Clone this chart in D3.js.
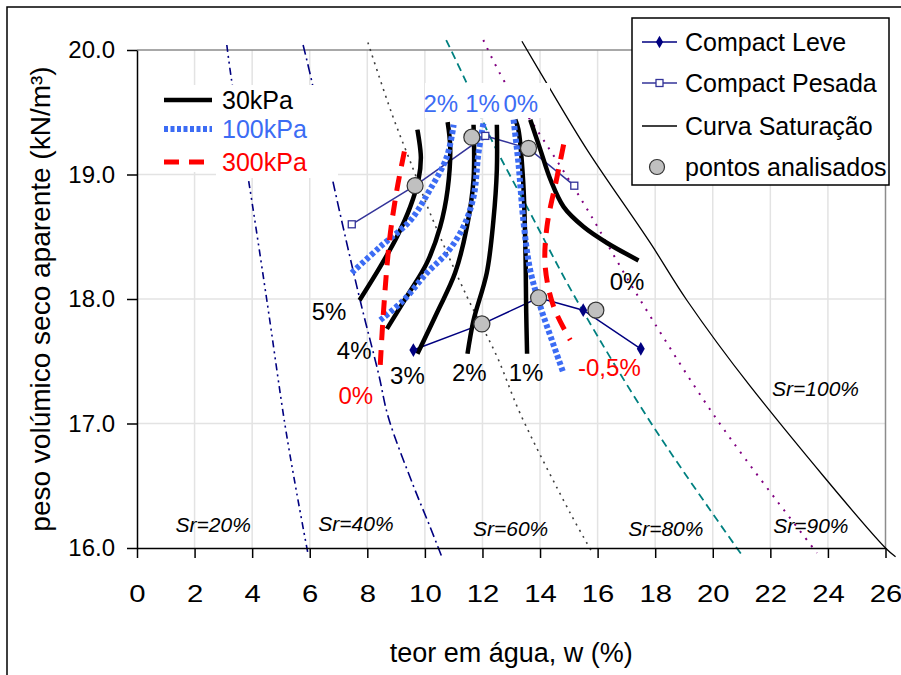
<!DOCTYPE html>
<html>
<head>
<meta charset="utf-8">
<script src="https://cdn.jsdelivr.net/npm/d3@7"></script>
<style>
  body { margin: 0; background: #fff; }
  text { font-family: Arial, "Liberation Sans", sans-serif; }
</style>
</head>
<body>
<div id="chart"></div>
<script>
// teor em agua w (%) vs peso volumico seco (kN/m3)

var xTicks = [0, 2, 4, 6, 8, 10, 12, 14, 16, 18, 20, 22, 24, 26];
var yTicks = [16, 17, 18, 19, 20];

// linhas de saturacao
var sr20 = [[3.12, 20.04], [3.29, 19.75], [3.87, 18.96], [4.51, 17.99], [5.14, 16.99], [5.55, 16.44], [5.95, 15.94]];
var sr40 = [[5.77, 20.04], [6.07, 19.75], [6.79, 18.96], [7.75, 17.99], [8.39, 17.40], [8.73, 17.05], [9.6, 16.5], [10.18, 16.17], [10.57, 15.94]];
var sr60 = [[8.02, 20.06], [8.85, 19.49], [9.6, 19.04], [10.18, 18.69], [11.46, 18.02], [12.5, 17.54], [13.31, 17.08], [15.05, 16.28], [15.8, 15.97]];
var sr80 = [[10.74, 20.08], [11.4, 19.76], [12.27, 19.30], [13.66, 18.69], [15.3, 17.98], [17.95, 16.97], [21.02, 15.94]];
var sr90 = [[12.03, 20.08], [12.73, 19.76], [13.66, 19.44], [15.51, 18.77], [17.25, 18.08], [20.15, 17.03], [23.62, 15.96]];
var sr100 = [[13.37, 20.07], [14.24, 19.73], [15.63, 19.2], [17.83, 18.45], [19.1, 17.99], [21.3, 17.30], [26.0, 16.0], [26.35, 15.93]];

var compactLeve = [[9.6, 17.59], [12.0, 17.8], [13.95, 18.01], [15.5, 17.91], [17.5, 17.6]];
var compactPesada = [[7.46, 18.6], [9.66, 18.91], [12.1, 19.31], [13.6, 19.21], [15.19, 18.91]];
var pontos = [[9.66, 18.91], [11.63, 19.3], [13.6, 19.21], [11.98, 17.80], [13.95, 18.01], [15.94, 17.91]];

// curvas de igual variacao de volume
var kpa30 = [
  [[7.73, 17.99], [8.45, 18.26], [9.03, 18.50], [9.49, 18.74], [9.78, 18.96], [9.86, 19.14], [9.74, 19.36]],
  [[8.68, 17.76], [9.37, 18.02], [10.07, 18.29], [10.53, 18.58], [10.79, 18.88], [10.88, 19.22], [10.79, 19.42]],
  [[9.74, 17.56], [10.42, 17.89], [11.05, 18.21], [11.46, 18.58], [11.69, 18.96], [11.69, 19.40]],
  [[11.48, 17.56], [11.69, 17.83], [12.15, 18.21], [12.38, 18.63], [12.5, 19.04], [12.5, 19.40]],
  [[13.55, 17.56], [13.52, 17.89], [13.49, 18.42], [13.41, 18.96], [13.25, 19.36], [13.14, 19.44]],
  [[13.66, 19.44], [14.01, 19.2], [14.36, 18.96], [14.82, 18.74], [15.51, 18.58], [16.33, 18.45], [17.42, 18.31]]
];
var kpa100 = [
  [[7.46, 18.21], [8.45, 18.42], [9.49, 18.63], [10.18, 18.88], [10.76, 19.14], [11.0, 19.40]],
  [[8.45, 17.83], [9.26, 17.99], [10.07, 18.21], [10.76, 18.37], [11.34, 18.58], [11.69, 18.82], [11.86, 19.17], [12.04, 19.42]],
  [[13.08, 19.44], [13.25, 19.09], [13.43, 18.61], [13.66, 18.23], [14.01, 17.94], [14.41, 17.67], [14.82, 17.40]]
];
var kpa300 = [
  [[8.45, 17.47], [8.56, 17.89], [8.77, 18.47], [9.03, 18.88], [9.32, 19.22]],
  [[14.82, 19.24], [14.59, 18.98], [14.24, 18.58], [14.18, 18.26], [14.47, 17.94], [15.05, 17.67]]
];

var curveLabels = [
  {t: "5%", w: 6.07, g: 17.83, c: "#000"},
  {t: "4%", w: 6.94, g: 17.52, c: "#000"},
  {t: "3%", w: 8.79, g: 17.32, c: "#000"},
  {t: "2%", w: 10.94, g: 17.34, c: "#000"},
  {t: "1%", w: 12.91, g: 17.34, c: "#000"},
  {t: "0%", w: 16.42, g: 18.07, c: "#000"},
  {t: "0%", w: 7.0, g: 17.16, c: "#ff0000"},
  {t: "-0,5%", w: 15.32, g: 17.38, c: "#ff0000"}
];
var blueLabels = [
  {t: "2%", w: 9.95, g: 19.5},
  {t: "1%", w: 11.4, g: 19.5},
  {t: "0%", w: 12.73, g: 19.5}
];
var srLabels = [
  {t: "Sr=20%", w: 1.34, g: 16.13},
  {t: "Sr=40%", w: 6.3, g: 16.14},
  {t: "Sr=60%", w: 11.67, g: 16.10},
  {t: "Sr=80%", w: 17.06, g: 16.10},
  {t: "Sr=90%", w: 22.1, g: 16.12},
  {t: "Sr=100%", w: 22.06, g: 17.22}
];

var width = 901, height = 675;
var pLeft = 137, pRight = 885.5, pTop = 50, pBottom = 548;

var svg = d3.select("#chart").append("svg")
    .attr("width", width)
    .attr("height", height);

// moldura exterior
svg.append("rect")
    .attr("x", 7).attr("y", 7)
    .attr("width", 1000).attr("height", 1000)
    .attr("fill", "#fff")
    .attr("stroke", "#000")
    .attr("stroke-width", 1.5);

var x = d3.scaleLinear().domain([0, 26]).range([pLeft, pRight]);
var y = d3.scaleLinear().domain([16, 20]).range([pBottom, pTop]);

var line = d3.line()
    .x(function(d) { return x(d[0]); })
    .y(function(d) { return y(d[1]); });
var smooth = d3.line()
    .x(function(d) { return x(d[0]); })
    .y(function(d) { return y(d[1]); })
    .curve(d3.curveCatmullRom.alpha(0.5));

// grelha
svg.append("g").selectAll("line")
    .data(xTicks.slice(1, -1))
    .enter().append("line")
    .attr("x1", function(d) { return x(d); })
    .attr("x2", function(d) { return x(d); })
    .attr("y1", pTop).attr("y2", pBottom)
    .attr("stroke", "#e3e3e3").attr("stroke-width", 1.5);
svg.append("g").selectAll("line")
    .data(yTicks.slice(1, -1))
    .enter().append("line")
    .attr("x1", pLeft).attr("x2", pRight)
    .attr("y1", function(d) { return y(d); })
    .attr("y2", function(d) { return y(d); })
    .attr("stroke", "#e3e3e3").attr("stroke-width", 1.5);
svg.append("path")
    .attr("d", "M" + pLeft + "," + pTop + "H" + pRight + "V" + pBottom)
    .attr("fill", "none")
    .attr("stroke", "#8c8c8c").attr("stroke-width", 1.5);

// linhas Sr
var srLines = [
  {d: sr20, c: "#000080", w: 1.6, dash: "7,4,2,4,2,4"},
  {d: sr40, c: "#000080", w: 1.6, dash: "10,4,2,4"},
  {d: sr60, c: "#404040", w: 1.6, dash: "2,5"},
  {d: sr80, c: "#008080", w: 1.8, dash: "8,5"},
  {d: sr90, c: "#800080", w: 2, dash: "2,7"},
  {d: sr100, c: "#000", w: 1.3, dash: null}
];
svg.append("g").selectAll("path")
    .data(srLines)
    .enter().append("path")
    .attr("d", function(d) { return smooth(d.d); })
    .attr("fill", "none")
    .attr("stroke", function(d) { return d.c; })
    .attr("stroke-width", function(d) { return d.w; })
    .attr("stroke-dasharray", function(d) { return d.dash; });

// caixas brancas das legendas de texto
svg.append("rect").attr("x", 150).attr("y", 85).attr("width", 66).attr("height", 87).attr("fill", "#fff");
svg.append("rect").attr("x", 216).attr("y", 85).attr("width", 122).attr("height", 93).attr("fill", "#fff");
svg.append("rect").attr("x", 425).attr("y", 83).attr("width", 125).attr("height", 35).attr("fill", "#fff");

svg.selectAll(".srlab")
    .data(srLabels)
    .enter().append("text")
    .attr("class", "srlab")
    .attr("x", function(d) { return x(d.w); })
    .attr("y", function(d) { return y(d.g); })
    .attr("font-size", 21)
    .attr("font-style", "italic")
    .text(function(d) { return d.t; });

// curvas de compactacao
svg.append("path")
    .attr("d", line(compactLeve))
    .attr("fill", "none").attr("stroke", "#000080").attr("stroke-width", 1.5);
svg.append("path")
    .attr("d", line(compactPesada))
    .attr("fill", "none").attr("stroke", "#333399").attr("stroke-width", 1.5);

// 30 kPa
svg.append("g").selectAll("path")
    .data(kpa30)
    .enter().append("path")
    .attr("d", smooth)
    .attr("fill", "none").attr("stroke", "#000").attr("stroke-width", 4.5);

// 100 kPa
svg.append("g").selectAll("path")
    .data(kpa100)
    .enter().append("path")
    .attr("d", smooth)
    .attr("fill", "none").attr("stroke", "#3c6cf4").attr("stroke-width", 6)
    .attr("stroke-dasharray", "4,2.5");

// 300 kPa
svg.append("g").selectAll("path")
    .data(kpa300)
    .enter().append("path")
    .attr("d", smooth)
    .attr("fill", "none").attr("stroke", "#ff0000").attr("stroke-width", 5)
    .attr("stroke-dasharray", "15,10");

svg.selectAll(".leve")
    .data(compactLeve)
    .enter().append("path")
    .attr("class", "leve")
    .attr("transform", function(d) { return "translate(" + x(d[0]) + "," + y(d[1]) + ")"; })
    .attr("d", d3.symbol().type(d3.symbolDiamond).size(55))
    .attr("fill", "#000080");
svg.selectAll(".pesada")
    .data(compactPesada)
    .enter().append("rect")
    .attr("class", "pesada")
    .attr("x", function(d) { return x(d[0]) - 3.5; })
    .attr("y", function(d) { return y(d[1]) - 3.5; })
    .attr("width", 7).attr("height", 7)
    .attr("fill", "#fff").attr("stroke", "#333399").attr("stroke-width", 1.3);

svg.selectAll(".ponto")
    .data(pontos)
    .enter().append("circle")
    .attr("class", "ponto")
    .attr("cx", function(d) { return x(d[0]); })
    .attr("cy", function(d) { return y(d[1]); })
    .attr("r", 8)
    .attr("fill", "#c0c0c0").attr("stroke", "#333").attr("stroke-width", 1.2);

// rotulos das curvas
svg.selectAll(".clab")
    .data(curveLabels)
    .enter().append("text")
    .attr("class", "clab")
    .attr("x", function(d) { return x(d.w); })
    .attr("y", function(d) { return y(d.g); })
    .attr("font-size", 24)
    .attr("fill", function(d) { return d.c; })
    .text(function(d) { return d.t; });
svg.selectAll(".blab")
    .data(blueLabels)
    .enter().append("text")
    .attr("class", "blab")
    .attr("x", function(d) { return x(d.w); })
    .attr("y", function(d) { return y(d.g); })
    .attr("font-size", 24)
    .attr("fill", "#3c6cf4")
    .text(function(d) { return d.t; });

// eixos
var xAxis = svg.append("g")
    .attr("transform", "translate(0," + pBottom + ")")
    .call(d3.axisBottom(x).tickValues(xTicks).tickSize(10).tickSizeOuter(0).tickPadding(8));
var yAxis = svg.append("g")
    .attr("transform", "translate(" + pLeft + ",0)")
    .call(d3.axisLeft(y).tickValues(yTicks).tickFormat(d3.format(".1f")).tickSize(10).tickSizeOuter(0).tickPadding(12));
[xAxis, yAxis].forEach(function(a) {
    a.select(".domain").attr("stroke", "#000").attr("stroke-width", 1.5);
    a.selectAll(".tick line").attr("stroke", "#000").attr("stroke-width", 1.5);
    a.selectAll("text").attr("font-size", 24).attr("fill", "#000")
        .attr("font-family", "Arial, 'Liberation Sans', sans-serif");
});
// rotulos do eixo x um pouco mais largos, como no original
xAxis.selectAll(".tick text")
    .attr("y", 0).attr("dy", null)
    .attr("transform", "translate(0,54) scale(1.22,1)");

svg.append("text")
    .attr("x", (pLeft + pRight) / 2)
    .attr("y", 662)
    .attr("text-anchor", "middle")
    .attr("font-size", 27)
    .text("teor em água, w (%)");
svg.append("text")
    .attr("transform", "translate(50," + ((pTop + pBottom) / 2) + ") rotate(-90)")
    .attr("text-anchor", "middle")
    .attr("font-size", 28)
    .text("peso volúmico seco aparente (kN/m³)");

// legenda das tensoes
var pres = [
  {t: "30kPa", c: "#000", w: 4.5, dash: null, tc: "#000", yy: 100},
  {t: "100kPa", c: "#3c6cf4", w: 6, dash: "4,2.5", tc: "#3c6cf4", yy: 129},
  {t: "300kPa", c: "#ff0000", w: 5, dash: "15,10", tc: "#ff0000", yy: 162}
];
var pl = svg.append("g").selectAll("g")
    .data(pres)
    .enter().append("g");
pl.append("line")
    .attr("x1", 164).attr("x2", 212)
    .attr("y1", function(d) { return d.yy; })
    .attr("y2", function(d) { return d.yy; })
    .attr("stroke", function(d) { return d.c; })
    .attr("stroke-width", function(d) { return d.w; })
    .attr("stroke-dasharray", function(d) { return d.dash; });
pl.append("text")
    .attr("x", 222)
    .attr("y", function(d) { return d.yy + 9; })
    .attr("font-size", 25)
    .attr("fill", function(d) { return d.tc; })
    .text(function(d) { return d.t; });

// legenda principal
svg.append("rect")
    .attr("x", 632).attr("y", 18)
    .attr("width", 257).attr("height", 167)
    .attr("fill", "#fff").attr("stroke", "#000").attr("stroke-width", 1.5);
var leg = [
  {t: "Compact Leve", yy: 42},
  {t: "Compact Pesada", yy: 83},
  {t: "Curva Saturação", yy: 126},
  {t: "pontos analisados", yy: 167}
];
svg.selectAll(".legt")
    .data(leg)
    .enter().append("text")
    .attr("class", "legt")
    .attr("x", 685)
    .attr("y", function(d) { return d.yy + 9; })
    .attr("font-size", 25)
    .text(function(d) { return d.t; });
svg.append("line").attr("x1", 642).attr("x2", 677).attr("y1", 42).attr("y2", 42)
    .attr("stroke", "#000080").attr("stroke-width", 1.5);
svg.append("path").attr("transform", "translate(659.5,42)")
    .attr("d", d3.symbol().type(d3.symbolDiamond).size(45)).attr("fill", "#000080");
svg.append("line").attr("x1", 642).attr("x2", 677).attr("y1", 83).attr("y2", 83)
    .attr("stroke", "#333399").attr("stroke-width", 1.5);
svg.append("rect").attr("x", 656).attr("y", 79.5).attr("width", 7).attr("height", 7)
    .attr("fill", "#fff").attr("stroke", "#333399").attr("stroke-width", 1.3);
svg.append("line").attr("x1", 642).attr("x2", 677).attr("y1", 126).attr("y2", 126)
    .attr("stroke", "#000").attr("stroke-width", 1.3);
svg.append("circle").attr("cx", 657).attr("cy", 167).attr("r", 7.5)
    .attr("fill", "#c0c0c0").attr("stroke", "#333").attr("stroke-width", 1.2);
</script>
</body>
</html>
